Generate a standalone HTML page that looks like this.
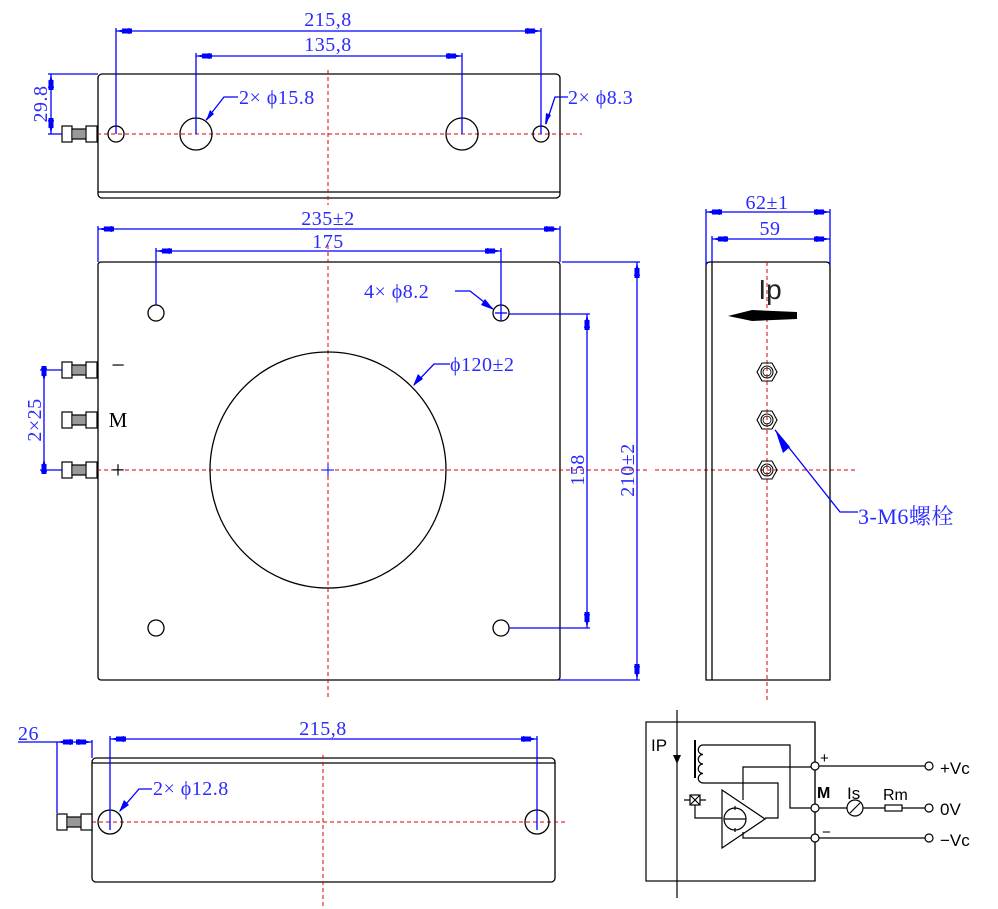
<!DOCTYPE html>
<html><head><meta charset="utf-8"><style>
html,body{margin:0;padding:0;background:#fff;}
svg{display:block;}
.k{stroke:#000;stroke-width:1.3;fill:none}
.b{stroke:#0000ff;stroke-width:1.3;fill:none}
.r{stroke:#e00000;stroke-width:1;stroke-dasharray:4,3;fill:none}
.t{font-family:"Liberation Serif","Noto Serif CJK SC",serif;fill:#2a2aff;font-size:20px;letter-spacing:0.5px}
.s{font-family:"Liberation Sans",sans-serif;fill:#000}
.a{fill:#0000ff}
</style></head><body>
<svg width="998" height="909" viewBox="0 0 998 909" xmlns="http://www.w3.org/2000/svg">
<defs>
<g id="term">
 <rect x="0" y="-8" width="10" height="16" fill="#fff" stroke="#000" stroke-width="1.2"/>
 <rect x="10" y="-5" width="14" height="10" fill="#fff" stroke="#000" stroke-width="1.2"/>
 <path d="M12 -5V5M14 -5V5M16 -5V5M18 -5V5M20 -5V5M22 -5V5" stroke="#000" stroke-width="0.8"/>
 <rect x="24" y="-8" width="11" height="16" fill="#fff" stroke="#000" stroke-width="1.2"/>
</g>
<g id="nut">
 <polygon points="-5,-9 5,-9 10,0 5,9 -5,9 -10,0" fill="none" stroke="#000" stroke-width="1.1"/>
 <circle r="6" fill="none" stroke="#000" stroke-width="1.1"/>
 <circle r="4" fill="none" stroke="#000" stroke-width="0.8"/>
</g>
<g id="ar"><polygon points="0,0 14,-3 14,3" class="a"/><rect x="6" y="-2.5" width="10" height="5" class="a"/></g>
</defs>

<!-- ===== TOP VIEW ===== -->
<rect x="98" y="74" width="462" height="124" rx="4" class="k"/>
<line x1="98" y1="192" x2="560" y2="192" class="k"/>
<line x1="328" y1="70" x2="328" y2="205" class="r"/>
<line x1="97" y1="134" x2="582" y2="134" class="r"/>
<circle cx="116" cy="134" r="8" class="k"/>
<circle cx="196" cy="134" r="16" class="k"/>
<circle cx="462" cy="134" r="16" class="k"/>
<circle cx="541" cy="134" r="8" class="k"/>
<use href="#term" x="62" y="134"/>
<line x1="116" y1="31" x2="541" y2="31" class="b"/>
<line x1="116" y1="28" x2="116" y2="134" class="b"/>
<line x1="541" y1="28" x2="541" y2="134" class="b"/>
<use href="#ar" x="116" y="31"/><use href="#ar" transform="translate(541,31) rotate(180)"/>
<text x="328" y="26" class="t" text-anchor="middle">215,8</text>
<line x1="196" y1="56" x2="462" y2="56" class="b"/>
<line x1="196" y1="53" x2="196" y2="134" class="b"/>
<line x1="462" y1="53" x2="462" y2="134" class="b"/>
<use href="#ar" x="196" y="56"/><use href="#ar" transform="translate(462,56) rotate(180)"/>
<text x="328" y="51" class="t" text-anchor="middle">135,8</text>
<line x1="48" y1="74" x2="98" y2="74" class="b"/>
<line x1="48" y1="134" x2="62" y2="134" class="b"/>
<line x1="51" y1="74" x2="51" y2="134" class="b"/>
<use href="#ar" transform="translate(51,74) rotate(90)"/><use href="#ar" transform="translate(51,134) rotate(-90)"/>
<text transform="translate(47,104) rotate(-90)" class="t" text-anchor="middle">29.8</text>
<polyline points="206,120 224,97 238,97" class="b"/>
<polygon points="206,121 210,110 214,114" class="a"/>
<text x="239" y="104" class="t">2× ϕ15.8</text>
<polyline points="546,124 555,97 568,97" class="b"/>
<polygon points="545,125 546,113 551,115" class="a"/>
<text x="568" y="104" class="t">2× ϕ8.3</text>

<!-- ===== MAIN VIEW ===== -->
<rect x="98" y="262" width="462" height="418" rx="3" class="k"/>
<line x1="328" y1="245" x2="328" y2="698" class="r"/>
<line x1="97" y1="470" x2="650" y2="470" class="r"/>
<line x1="655" y1="470" x2="855" y2="470" class="r"/>
<line x1="322" y1="470" x2="334" y2="470" stroke="#0000ff"/>
<line x1="328" y1="464" x2="328" y2="476" stroke="#0000ff"/>
<circle cx="328" cy="470" r="118" class="k"/>
<circle cx="156" cy="313" r="8" class="k"/>
<circle cx="501" cy="313" r="8" class="k"/>
<circle cx="156" cy="628" r="8" class="k"/>
<circle cx="501" cy="628" r="8" class="k"/>
<use href="#term" x="62" y="370"/><use href="#term" x="62" y="420"/><use href="#term" x="62" y="470"/>
<text x="118" y="373" style="font-family:'Liberation Serif',serif;font-size:24px;fill:#000" text-anchor="middle">−</text>
<text x="118" y="427" style="font-family:'Liberation Serif',serif;font-size:21px;fill:#000" text-anchor="middle">M</text>
<text x="118" y="478" style="font-family:'Liberation Serif',serif;font-size:24px;fill:#000" text-anchor="middle">+</text>
<line x1="98" y1="229" x2="560" y2="229" class="b"/>
<line x1="98" y1="226" x2="98" y2="262" class="b"/>
<line x1="560" y1="226" x2="560" y2="262" class="b"/>
<use href="#ar" x="98" y="229"/><use href="#ar" transform="translate(560,229) rotate(180)"/>
<text x="328" y="225" class="t" text-anchor="middle">235±2</text>
<line x1="156" y1="251" x2="501" y2="251" class="b"/>
<line x1="156" y1="248" x2="156" y2="305" class="b"/>
<line x1="501" y1="248" x2="501" y2="321" class="b"/>
<line x1="495" y1="313" x2="507" y2="313" class="b"/>
<use href="#ar" x="156" y="251"/><use href="#ar" transform="translate(501,251) rotate(180)"/>
<text x="328" y="248" class="t" text-anchor="middle">175</text>
<line x1="509" y1="314" x2="590" y2="314" class="b"/>
<line x1="509" y1="628" x2="590" y2="628" class="b"/>
<line x1="587" y1="314" x2="587" y2="628" class="b"/>
<use href="#ar" transform="translate(587,314) rotate(90)"/><use href="#ar" transform="translate(587,628) rotate(-90)"/>
<text transform="translate(584,470) rotate(-90)" class="t" text-anchor="middle">158</text>
<line x1="562" y1="262" x2="640" y2="262" class="b"/>
<line x1="558" y1="680" x2="640" y2="680" class="b"/>
<line x1="637" y1="262" x2="637" y2="680" class="b"/>
<use href="#ar" transform="translate(637,262) rotate(90)"/><use href="#ar" transform="translate(637,680) rotate(-90)"/>
<text transform="translate(634,470) rotate(-90)" class="t" text-anchor="middle">210±2</text>
<line x1="40" y1="370" x2="62" y2="370" class="b"/>
<line x1="40" y1="470" x2="62" y2="470" class="b"/>
<line x1="44" y1="370" x2="44" y2="470" class="b"/>
<use href="#ar" transform="translate(44,382) rotate(-90)"/><use href="#ar" transform="translate(44,458) rotate(90)"/>
<text transform="translate(41,420) rotate(-90)" class="t" text-anchor="middle">2×25</text>
<polyline points="493,309 470,291 455,291" class="b"/>
<polygon points="494,310 481,305 485,299" class="a"/>
<text x="364" y="298" class="t">4× ϕ8.2</text>
<polyline points="414,385 434,364 450,364" class="b"/>
<polygon points="413,386 418,374 423,379" class="a"/>
<text x="450" y="371" class="t">ϕ120±2</text>

<!-- ===== SIDE VIEW ===== -->
<path d="M706 680V266Q706 262 710 262H826Q830 262 830 266V680Z" class="k"/>
<line x1="712" y1="262" x2="712" y2="680" class="k"/>
<line x1="767" y1="262" x2="767" y2="700" class="r"/>
<text x="770" y="299" class="s" font-size="28" text-anchor="middle" style="fill:#222">Ip</text>
<polygon points="728,316 752,310 797,312 797,319 752,321" fill="#000"/>
<use href="#nut" x="767" y="372"/><use href="#nut" x="767" y="420"/><use href="#nut" x="767" y="470"/>
<line x1="706" y1="212" x2="830" y2="212" class="b"/>
<line x1="706" y1="209" x2="706" y2="265" class="b"/>
<line x1="830" y1="209" x2="830" y2="265" class="b"/>
<use href="#ar" x="706" y="212"/><use href="#ar" transform="translate(830,212) rotate(180)"/>
<text x="767" y="209" class="t" text-anchor="middle">62±1</text>
<line x1="712" y1="239" x2="830" y2="239" class="b"/>
<line x1="712" y1="236" x2="712" y2="262" class="b"/>
<use href="#ar" x="712" y="239"/><use href="#ar" transform="translate(830,239) rotate(180)"/>
<text x="770" y="235" class="t" text-anchor="middle">59</text>
<polyline points="775,430 840,512 858,512" class="b"/>
<polygon points="775,429 790,447 783,453" class="a"/>
<text x="858" y="524" class="t" font-size="22" style="font-size:22px">3-M6螺栓</text>

<!-- ===== BOTTOM VIEW ===== -->
<rect x="92" y="758" width="463" height="124" rx="4" class="k"/>
<line x1="92" y1="763" x2="555" y2="763" class="k"/>
<line x1="323" y1="755" x2="323" y2="909" class="r"/>
<line x1="92" y1="822" x2="565" y2="822" class="r"/>
<circle cx="110" cy="822" r="12" class="k"/>
<circle cx="537" cy="822" r="12" class="k"/>
<use href="#term" x="57" y="822"/>
<line x1="110" y1="739" x2="537" y2="739" class="b"/>
<line x1="110" y1="736" x2="110" y2="830" class="b"/>
<line x1="537" y1="736" x2="537" y2="830" class="b"/>
<use href="#ar" x="110" y="739"/><use href="#ar" transform="translate(537,739) rotate(180)"/>
<text x="323" y="735" class="t" text-anchor="middle">215,8</text>
<line x1="18" y1="742" x2="92" y2="742" class="b"/>
<line x1="57" y1="742" x2="57" y2="813" class="b"/>
<line x1="92" y1="740" x2="92" y2="758" class="b"/>
<use href="#ar" transform="translate(57,742) rotate(180) scale(-1,1)"/>
<use href="#ar" transform="translate(92,742) rotate(180)"/>
<text x="18" y="740" class="t">26</text>
<polyline points="120,811 139,789 152,789" class="b"/>
<polygon points="119,812 124,800 129,805" class="a"/>
<text x="153" y="795" class="t">2× ϕ12.8</text>

<!-- ===== SCHEMATIC ===== -->
<g stroke="#000" stroke-width="1.2" fill="none">
<rect x="646" y="722" width="169" height="159"/>
<line x1="677" y1="710" x2="677" y2="898"/>
<line x1="695" y1="740" x2="695" y2="778" stroke-width="2"/>
<path d="M730 745H703 a4 4 0 0 0 0 9.5 a4 4 0 0 0 0 9.5 a4 4 0 0 0 0 9.5 a4 4 0 0 0 0 9.5 H778V818H765"/>
<path d="M730 745H790V808H811"/>
<path d="M743 800V767H811"/>
<path d="M743 832V838H811"/>
<polygon points="722,790 765,819 722,848"/>
<circle cx="735" cy="819" r="11"/>
<line x1="724" y1="819" x2="746" y2="819"/>
<line x1="735" y1="806" x2="735" y2="810"/><line x1="735" y1="828" x2="735" y2="832"/>
<rect x="690" y="795" width="10" height="10"/>
<path d="M690 795L700 805M700 795L690 805M684 800H690M700 800H706M695 805V818H722"/>
<line x1="815" y1="722" x2="815" y2="881"/>
<circle cx="815" cy="766" r="4" fill="#fff"/><circle cx="815" cy="808" r="4" fill="#fff"/><circle cx="815" cy="838" r="4" fill="#fff"/>
<line x1="819" y1="766" x2="925" y2="766"/>
<line x1="819" y1="808" x2="847" y2="808"/>
<circle cx="855" cy="808" r="8"/><line x1="850" y1="813" x2="860" y2="803"/>
<line x1="863" y1="808" x2="885" y2="808"/>
<rect x="885" y="805" width="17" height="6"/>
<line x1="902" y1="808" x2="925" y2="808"/>
<line x1="819" y1="838" x2="925" y2="838"/>
<circle cx="929" cy="766" r="4"/><circle cx="929" cy="808" r="4"/><circle cx="929" cy="838" r="4"/>
</g>
<polygon points="673,755 681,755 677,764" fill="#000"/>
<text x="651" y="751" class="s" font-size="17">IP</text>
<text x="820" y="763" class="s" font-size="15">+</text>
<text x="817" y="798" class="s" font-size="16" font-weight="bold">M</text>
<text x="822" y="837" class="s" font-size="15">−</text>
<text x="847" y="799" class="s" font-size="17">Is</text>
<text x="883" y="800" class="s" font-size="16">Rm</text>
<text x="940" y="774" class="s" font-size="17">+Vc</text>
<text x="940" y="815" class="s" font-size="17">0V</text>
<text x="940" y="846" class="s" font-size="17">−Vc</text>
</svg>
</body></html>
